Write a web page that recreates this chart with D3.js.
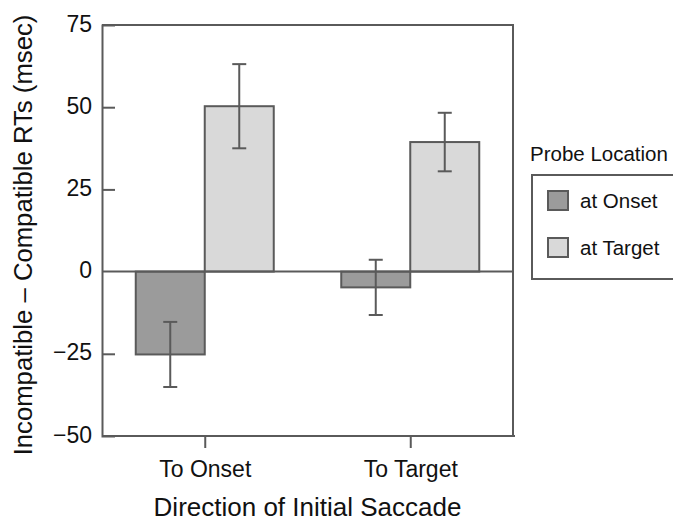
<!DOCTYPE html>
<html>
<head>
<meta charset="utf-8">
<script src="https://cdn.jsdelivr.net/npm/d3@7"></script>
<style>
  body { margin: 0; background: #fff; }
  svg { display: block; font-family: "Liberation Sans", Arial, sans-serif; }
</style>
</head>
<body>
<div id="chart"></div>
<script>
// data
var categories = ['To Onset', 'To Target'];
var series = ['at Onset', 'at Target'];
var onsetValues = [-25.2, -4.8];
var targetValues = [50.3, 39.4];
var onsetErrors = [9.9, 8.4];
var targetErrors = [12.8, 8.9];
var yTicks = [-50, -25, 0, 25, 50, 75];

var colors = { 'at Onset': '#9b9b9b', 'at Target': '#d9d9d9' };
var lineColor = '#5a5a5a';

var svgWidth = 673, svgHeight = 521;
var margin = { top: 25, right: 160, bottom: 85, left: 102 };
var width = 513 - margin.left;
var height = 436 - margin.top;

var svg = d3.select('#chart').append('svg')
    .attr('width', svgWidth)
    .attr('height', svgHeight);

var chartGroup = svg.append('g')
    .attr('transform', `translate(${margin.left}, ${margin.top})`);

// scales
var xScale = d3.scalePoint()
    .domain(categories)
    .range([0, width])
    .padding(0.5);

var barWidth = 69;
var xInner = d3.scaleBand()
    .domain(series)
    .range([-barWidth, barWidth]);

var yScale = d3.scaleLinear()
    .domain([-50, 75])
    .range([height, 0]);

// build rows for drawing
var rows = [];
categories.forEach(function (c, i) {
    rows.push({ cat: c, s: 'at Onset', v: onsetValues[i], e: onsetErrors[i] });
    rows.push({ cat: c, s: 'at Target', v: targetValues[i], e: targetErrors[i] });
});

// bars
chartGroup.selectAll('rect.bar')
    .data(rows)
    .enter()
    .append('rect')
    .attr('class', 'bar')
    .attr('x', d => xScale(d.cat) + xInner(d.s))
    .attr('width', xInner.bandwidth())
    .attr('y', d => yScale(Math.max(0, d.v)))
    .attr('height', d => Math.abs(yScale(d.v) - yScale(0)))
    .attr('fill', d => colors[d.s])
    .attr('stroke', lineColor)
    .attr('stroke-width', 2);

// zero line
chartGroup.append('line')
    .attr('x1', 0).attr('x2', width)
    .attr('y1', yScale(0)).attr('y2', yScale(0))
    .attr('stroke', lineColor)
    .attr('stroke-width', 2);

// error bars
var capHalf = 7;
var errGroup = chartGroup.selectAll('g.err')
    .data(rows)
    .enter()
    .append('g')
    .attr('class', 'err')
    .attr('stroke', lineColor)
    .attr('stroke-width', 2);

errGroup.append('line')
    .attr('x1', d => xScale(d.cat) + xInner(d.s) + xInner.bandwidth() / 2)
    .attr('x2', d => xScale(d.cat) + xInner(d.s) + xInner.bandwidth() / 2)
    .attr('y1', d => yScale(d.v + d.e))
    .attr('y2', d => yScale(d.v - d.e));

[1, -1].forEach(function (sign) {
    errGroup.append('line')
        .attr('x1', d => xScale(d.cat) + xInner(d.s) + xInner.bandwidth() / 2 - capHalf)
        .attr('x2', d => xScale(d.cat) + xInner(d.s) + xInner.bandwidth() / 2 + capHalf)
        .attr('y1', d => yScale(d.v + sign * d.e))
        .attr('y2', d => yScale(d.v + sign * d.e));
});

// frame (top and right)
chartGroup.append('path')
    .attr('d', `M0,0H${width}V${height}`)
    .attr('fill', 'none')
    .attr('stroke', lineColor)
    .attr('stroke-width', 2);

// y axis, ticks pointing inward
var yAxis = chartGroup.append('g')
    .call(d3.axisLeft(yScale)
        .tickValues(yTicks)
        .tickSize(-13)
        .tickPadding(24)
        .tickFormat(d => d < 0 ? '\u2212' + Math.abs(d) : d));

yAxis.select('.domain').attr('stroke', lineColor).attr('stroke-width', 2);
yAxis.selectAll('.tick line')
    .attr('stroke', lineColor)
    .attr('stroke-width', 2)
    .attr('display', d => (d === 25 || d === 50 || d === -25) ? null : 'none');
yAxis.selectAll('.tick text')
    .attr('font-size', 23)
    .attr('fill', '#111')
    .attr('dy', 6)
    .attr('x', -10);

// x axis, ticks pointing outward
var xAxis = chartGroup.append('g')
    .attr('transform', `translate(0, ${height})`)
    .call(d3.axisBottom(xScale).tickSize(12).tickPadding(14));

xAxis.select('.domain')
    .attr('d', `M0,0H${width + 2}`)
    .attr('stroke', lineColor).attr('stroke-width', 2);
xAxis.selectAll('.tick line').attr('stroke', lineColor).attr('stroke-width', 2);
xAxis.selectAll('.tick text')
    .attr('font-size', 23)
    .attr('fill', '#111')
    .attr('dy', 0)
    .attr('y', 41);

// axis titles
chartGroup.append('text')
    .attr('x', width / 2)
    .attr('y', height + 80)
    .attr('text-anchor', 'middle')
    .attr('font-size', 26)
    .attr('fill', '#111')
    .text('Direction of Initial Saccade');

svg.append('text')
    .attr('transform', `translate(32, ${margin.top + 210}) rotate(-90)`)
    .attr('text-anchor', 'middle')
    .attr('font-size', 25.7)
    .attr('fill', '#111')
    .text('Incompatible \u2013 Compatible RTs (msec)');

// legend
var legend = svg.append('g')
    .attr('transform', 'translate(531, 174)');

svg.append('text')
    .attr('x', 530)
    .attr('y', 161)
    .attr('font-size', 20.5)
    .attr('fill', '#111')
    .text('Probe Location');

legend.append('rect')
    .attr('x', 1).attr('y', 1)
    .attr('width', 200).attr('height', 104)
    .attr('fill', '#fff')
    .attr('stroke', lineColor)
    .attr('stroke-width', 2);

var legendItem = legend.selectAll('g.item')
    .data(series)
    .enter()
    .append('g')
    .attr('class', 'item')
    .attr('transform', (d, i) => `translate(17, ${17 + i * 47})`);

legendItem.append('rect')
    .attr('width', 20).attr('height', 19)
    .attr('fill', d => colors[d])
    .attr('stroke', lineColor)
    .attr('stroke-width', 2);

legendItem.append('text')
    .attr('x', 32)
    .attr('y', 17)
    .attr('font-size', 20.5)
    .attr('fill', '#111')
    .text(d => d);
</script>
</body>
</html>
